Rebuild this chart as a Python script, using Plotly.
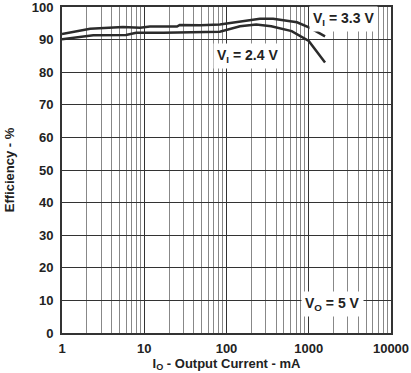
import plotly.graph_objects as go

# Output current (mA) and efficiency (%)
current_33 = [1, 2.2, 5.5, 8.9, 11.7, 25, 27, 48, 83, 146, 255, 369, 720, 1036, 1578]
eff_33 = [91.7, 93.3, 93.9, 93.6, 94.0, 94.0, 94.5, 94.4, 94.6, 95.6, 96.4, 96.4, 95.3, 93.6, 91.0]

current_24 = [1, 2.4, 6, 8, 17, 48, 83, 146, 230, 350, 620, 1000, 1578]
eff_24 = [90.1, 91.3, 91.4, 92.1, 92.1, 92.3, 92.4, 94.1, 94.6, 94.1, 92.6, 89.6, 83.0]

x_tick_vals = [1, 10, 100, 1000, 10000]
x_tick_text = ["1", "10", "100", "1000", "10000"]
y_tick_vals = [0, 10, 20, 30, 40, 50, 60, 70, 80, 90, 100]
minor_vals = [m * d for d in [1, 10, 100, 1000] for m in range(2, 10)]

line_col = "#2b2b2b"
font_fam = "Liberation Sans, Arial, sans-serif"

fig = go.Figure()
fig.add_trace(go.Scatter(x=current_33, y=eff_33, mode="lines",
                         line=dict(color=line_col, width=2.5),
                         showlegend=False))
fig.add_trace(go.Scatter(x=current_24, y=eff_24, mode="lines",
                         line=dict(color=line_col, width=2.5),
                         showlegend=False))

fig.update_layout(
    width=411, height=373,
    margin=dict(l=62, r=20, t=7, b=40),
    paper_bgcolor="white", plot_bgcolor="white",
    font=dict(family=font_fam, size=13, color="#222"),
    xaxis=dict(
        type="log", range=[0, 4], automargin=False,
        tickmode="array", tickvals=x_tick_vals, ticktext=x_tick_text,
        showgrid=True, gridcolor="#333", gridwidth=1,
        minor=dict(tickmode="array", tickvals=minor_vals, showgrid=True,
                   gridcolor="#888", gridwidth=1, ticks=""),
        showline=True, linecolor="#333", linewidth=2, mirror=True,
        ticks="", ticklabelstandoff=2, ticklabeloverflow="allow",
        tickfont=dict(family=font_fam, size=13, color="#222", weight="bold"),
        title=dict(text="<b>I<sub>O</sub> - Output Current - mA</b>",
                   font=dict(family=font_fam, size=13, color="#222"), standoff=2),
        zeroline=False,
    ),
    yaxis=dict(
        range=[0, 100], automargin=False,
        tickmode="array", tickvals=y_tick_vals,
        showgrid=True, gridcolor="#333", gridwidth=1,
        showline=True, linecolor="#333", linewidth=2, mirror=True,
        ticks="", ticklabelstandoff=4, ticklabeloverflow="allow",
        tickfont=dict(family=font_fam, size=13, color="#222", weight="bold"),
        title=dict(text="<b>Efficiency - %</b>",
                   font=dict(family=font_fam, size=13, color="#222"), standoff=14),
        zeroline=False,
    ),
)

ann_font = dict(family=font_fam, size=14, color="#222")
fig.add_annotation(x=3.42, y=96.3, xref="x", yref="y", text="<b>V<sub>I</sub> = 3.3 V</b>",
                   showarrow=False, bgcolor="white", font=ann_font, borderpad=3)
fig.add_annotation(x=2.26, y=85.1, xref="x", yref="y", text="<b>V<sub>I</sub> = 2.4 V</b>",
                   showarrow=False, bgcolor="white", font=ann_font, borderpad=3)
fig.add_annotation(x=3.29, y=9.0, xref="x", yref="y", text="<b>V<sub>O</sub> = 5 V</b>",
                   showarrow=False, bgcolor="white", font=ann_font, borderpad=3)

fig.write_html("out.html", config={"displayModeBar": False},
               post_script="document.body.style.margin='0';")
